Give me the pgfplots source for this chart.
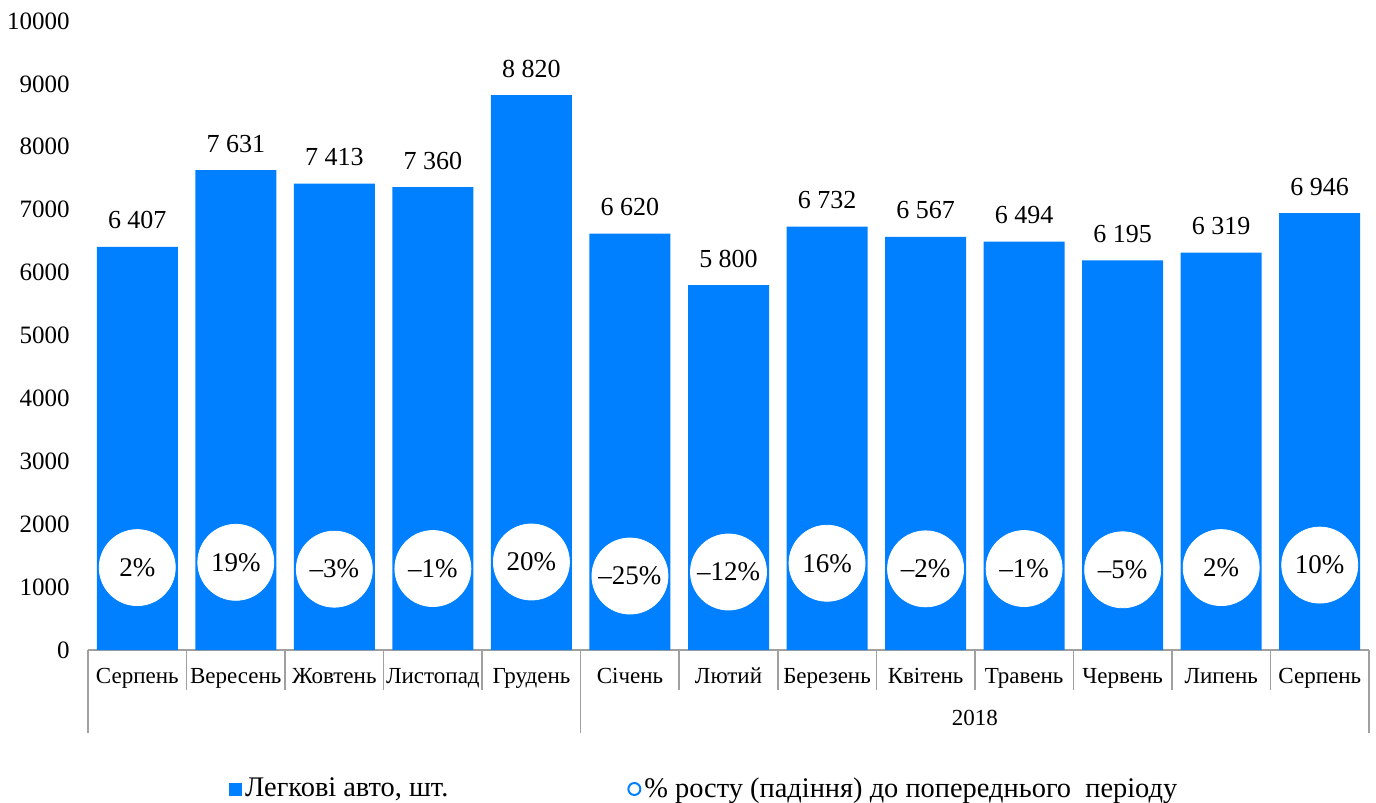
\documentclass[border=0pt]{standalone}
\usepackage{pgfplots}
\pgfplotsset{compat=1.18}
\usepackage{fontspec}
\setmainfont{Liberation Serif}
\definecolor{barblue}{HTML}{0080FF}
\definecolor{linegray}{HTML}{A0A0A0}
\begin{document}
\begin{tikzpicture}
\useasboundingbox (0,0) rectangle (688pt,401.5pt);
\begin{axis}[
  at={(44pt,76.5pt)}, anchor=south west,
  scale only axis, width=640.5pt, height=314.5pt,
  xmin=-0.5, xmax=12.5, ymin=0, ymax=10000,
  clip=false,
  axis x line*=bottom, axis y line*=left,
  x axis line style={draw=linegray, line width=0.8pt},
  y axis line style={draw=none},
  ytick={0,1000,...,10000},
  scaled y ticks=false,
  /pgf/number format/assume math mode=true,
  yticklabel style={font=\fontsize{12.5}{15}\selectfont, /pgf/number format/1000 sep={}, inner sep=0pt, xshift=-9pt},
  xtick={0,...,12},
  xticklabels={Серпень,Вересень,Жовтень,Листопад,Грудень,Січень,Лютий,Березень,Квітень,Травень,Червень,Липень,Серпень},
  xticklabel style={font=\fontsize{11.5}{14}\selectfont, anchor=base, yshift=-16.5pt, inner sep=0pt},
  minor xtick={-0.5,0.5,...,12.5},
  major tick length=0pt, minor tick length=20pt,
  tick align=outside,
  minor tick style={draw=linegray, line width=0.8pt},
  extra x ticks={-0.5,4.5,12.5},
  extra x tick labels={},
  extra x tick style={major tick length=41.5pt, major tick style={draw=linegray, line width=0.8pt}},
  legend columns=2,
  legend style={at={(0.110,-0.221)}, anchor=west, draw=none, inner sep=0pt,
    nodes={inner sep=1.5pt, font=\rmfamily\fontsize{14.2}{17}\selectfont},
    /tikz/every even column/.append style={column sep=88pt}},
]
\addlegendimage{legend image code/.code={\fill[barblue] (0pt,-3pt) rectangle (6pt,3pt);}}
\addlegendentry{Легкові авто, шт.}
\addlegendimage{legend image code/.code={\draw[barblue, line width=1pt] (3pt,0pt) circle (3pt);}}
\addlegendentry{\% росту (падіння) до попереднього\ \ періоду}

\addplot[ybar, bar width=40.5pt, fill=barblue, draw=none,
  nodes near coords={\pgfmathprintnumber[fixed,precision=0,1000 sep={\ }]{\pgfplotspointmeta}},
  every node near coord/.append style={font=\fontsize{13}{15}\selectfont, anchor=base, yshift=9pt, text=black}]
  coordinates {(0,6407) (1,7631) (2,7413) (3,7360) (4,8820) (5,6620) (6,5800) (7,6732) (8,6567) (9,6494) (10,6195) (11,6319) (12,6946)};

\addplot[only marks, mark=*, mark size=19pt, mark options={fill=white, draw=white},
  point meta=explicit symbolic, nodes near coords,
  every node near coord/.append style={font=\fontsize{13.5}{16}\selectfont, anchor=center, text=black}]
  coordinates {(0,1310)[2\%] (1,1394)[19\%] (2,1285)[–3\%] (3,1295)[–1\%] (4,1399)[20\%] (5,1176)[–25\%] (6,1240)[–12\%] (7,1379)[16\%] (8,1290)[–2\%] (9,1295)[–1\%] (10,1275)[–5\%] (11,1310)[2\%] (12,1350)[10\%]};

\node[font=\fontsize{11.5}{14}\selectfont, anchor=base, yshift=-37.5pt] at (axis cs:8.5,0) {2018};
\end{axis}
\end{tikzpicture}
\end{document}
